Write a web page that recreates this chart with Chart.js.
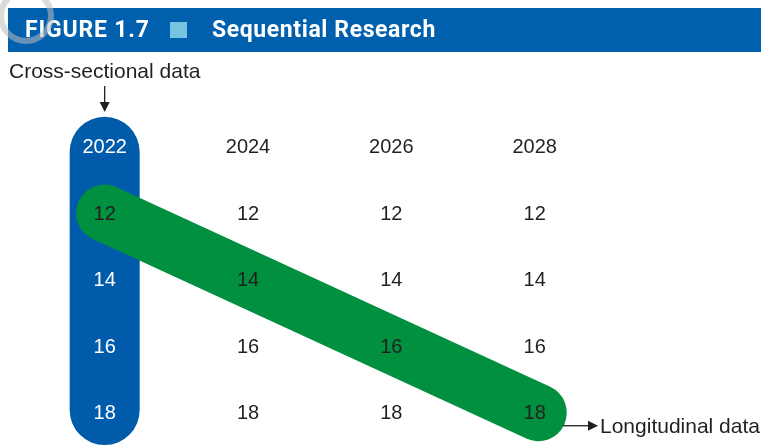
<!DOCTYPE html>
<html>
<head>
<meta charset="utf-8">
<script src="https://cdn.jsdelivr.net/npm/chart.js@4.4.0/dist/chart.umd.min.js"></script>
<style>
  html, body { margin: 0; padding: 0; background: #fff; }
  #wrap { position: relative; width: 761px; height: 446px; overflow: hidden; }
  #chart-box { position: absolute; left: 0; top: 0; width: 761px; height: 446px; }
  .header {
    position: absolute; left: 8px; top: 8px; width: 753px; height: 44px;
    background: #0060ae; color: #fff;
    font-family: Roboto, 'Open Sans', sans-serif; font-weight: 700; font-size: 23px;
    line-height: 44px;
  }
  .header .fig { position: absolute; left: 17px; top: 0; letter-spacing: 0.8px; }
  .header .sq { position: absolute; left: 162px; top: 14px; width: 17px; height: 16px; background: #74c5dd; }
  .header .ttl { position: absolute; left: 204px; top: 0; letter-spacing: 0.6px; }
  .mark {
    position: absolute; left: -2px; top: -12px; width: 44px; height: 44px;
    border: 6px solid rgba(190, 190, 190, 0.55); border-radius: 50%;
  }
</style>
</head>
<body>
<div id="wrap">
  <div id="chart-box"><canvas id="seq-chart"></canvas></div>
  <div class="header">
    <span class="fig">FIGURE 1.7</span>
    <span class="sq"></span>
    <span class="ttl">Sequential Research</span>
  </div>
  <div class="mark"></div>
</div>
<script>
const YEARS = [2022, 2024, 2026, 2028];
const AGES = [12, 14, 16, 18];
const YEAR_ROW = 10;

// cross-sectional column (blue pill) and longitudinal cohort (green band)
const CROSS_X = [2022, 2022];
const CROSS_Y = [10.16, 17.92];
const LONG_X = [2022, 2028.05];
const LONG_Y = [12, 18];

const BLUE = '#005bab';
const GREEN = '#00903f';
const INK = '#231f20';
const FONT = '"Liberation Sans", Arial, sans-serif';

function toPoints(xs, ys) {
  return xs.map((x, i) => ({ x, y: ys[i] }));
}

const labelsPlugin = {
  id: 'gridLabels',
  afterDatasetsDraw(chart) {
    const { ctx, scales: { x, y } } = chart;
    ctx.save();
    ctx.font = `20px ${FONT}`;
    ctx.textAlign = 'center';
    ctx.textBaseline = 'middle';

    YEARS.forEach((year, col) => {
      const px = x.getPixelForValue(year);
      ctx.fillStyle = col === 0 ? '#fff' : INK;
      ctx.fillText(String(year), px, y.getPixelForValue(YEAR_ROW) + 1);
      AGES.forEach((age, row) => {
        const onGreen = row === col;
        ctx.fillStyle = col === 0 && !onGreen ? '#fff' : INK;
        ctx.fillText(String(age), px, y.getPixelForValue(age) + 1);
      });
    });

    // Cross-sectional label + down arrow
    const cx = x.getPixelForValue(CROSS_X[0]);
    ctx.font = `21px ${FONT}`;
    ctx.textAlign = 'left';
    ctx.fillStyle = INK;
    ctx.fillText('Cross-sectional data', 9, 72);
    ctx.strokeStyle = INK;
    ctx.lineWidth = 1.3;
    ctx.beginPath();
    ctx.moveTo(cx, 86);
    ctx.lineTo(cx, 104);
    ctx.stroke();
    ctx.beginPath();
    ctx.moveTo(cx - 5, 102);
    ctx.lineTo(cx + 5, 102);
    ctx.lineTo(cx, 112);
    ctx.closePath();
    ctx.fill();

    // Longitudinal label + right arrow
    const ay = y.getPixelForValue(LONG_Y[1]) + 13;
    ctx.beginPath();
    ctx.moveTo(563, ay);
    ctx.lineTo(590, ay);
    ctx.stroke();
    ctx.beginPath();
    ctx.moveTo(588, ay - 5);
    ctx.lineTo(598, ay);
    ctx.lineTo(588, ay + 5);
    ctx.closePath();
    ctx.fill();
    ctx.fillText('Longitudinal data', 600, ay + 1);
    ctx.restore();
  },
};

new Chart(document.getElementById('seq-chart'), {
  type: 'line',
  data: {
    datasets: [
      {
        label: 'Longitudinal',
        data: toPoints(LONG_X, LONG_Y),
        borderColor: GREEN,
        borderWidth: 57,
        borderCapStyle: 'round',
        pointRadius: 0,
        clip: false,
        order: 0,
      },
      {
        label: 'Cross-sectional',
        data: toPoints(CROSS_X, CROSS_Y),
        borderColor: BLUE,
        borderWidth: 70,
        borderCapStyle: 'round',
        pointRadius: 0,
        clip: false,
        order: 1,
      },
    ],
  },
  options: {
    responsive: true,
    maintainAspectRatio: false,
    animation: false,
    layout: { padding: { left: 33, right: 83, top: 80, bottom: 0 } },
    plugins: {
      legend: { display: false },
      tooltip: { enabled: false },
    },
    scales: {
      x: { type: 'linear', min: 2021, max: 2030, display: false },
      y: { type: 'linear', min: 8, max: 19, reverse: true, display: false },
    },
  },
  plugins: [labelsPlugin],
});
</script>
</body>
</html>
